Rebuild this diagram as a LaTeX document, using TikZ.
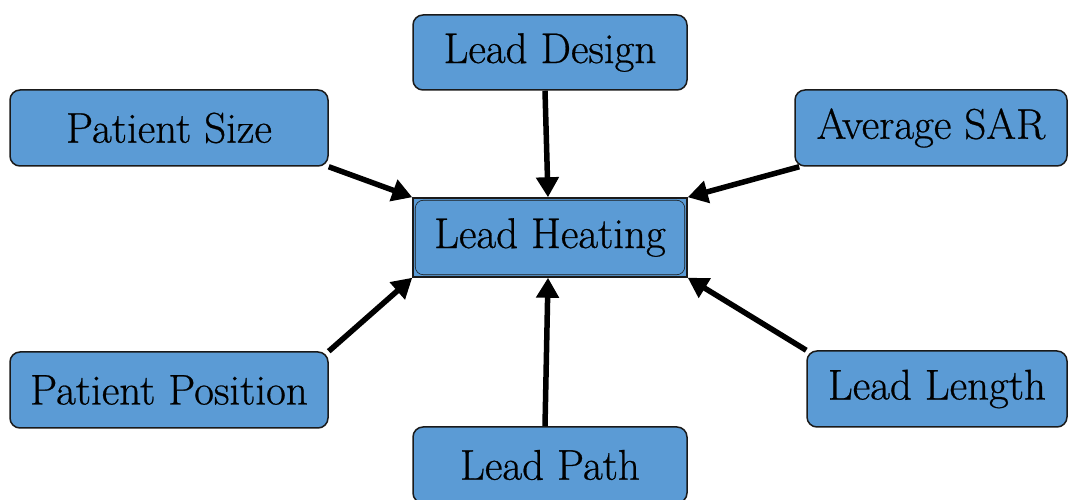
\documentclass[tikz,border=0pt]{standalone}
\usepackage{fontspec}
\newfontfamily\labelfont{Latin Modern Roman}[FakeBold=0.6]
\usetikzlibrary{arrows.meta}
\definecolor{boxblue}{HTML}{5B9BD5}
\definecolor{boxline}{HTML}{1A1A1A}
\tikzset{
  factor/.style={draw=boxline, line width=1.5pt, fill=boxblue, rounded corners=10pt,
    inner sep=0pt, font=\labelfont\fontsize{43}{50}\selectfont, text=black},
  conn/.style={line width=5.5pt, -{Triangle[length=20pt,width=22pt]}, black}
}
\begin{document}
\begin{tikzpicture}[x=1pt,y=1pt]
\useasboundingbox (0,0) rectangle (1068,500);
% nodes (y = 500 - pixel row)
\node[factor, minimum width=274pt, minimum height=75pt] (design) at (550,447.5) {Lead Design};
\node[factor, minimum width=318pt, minimum height=76pt] (psize) at (169,372) {Patient Size};
\node[factor, minimum width=272pt, minimum height=76pt] (sar) at (931,372) {Average SAR};
\node[factor, rounded corners=0pt, minimum width=274pt, minimum height=79pt] (heat) at (550,262.5) {Lead Heating};
\draw[boxline, line width=0.6pt, rounded corners=8pt]
  ([shift={(3pt,-3pt)}]heat.north west) rectangle ([shift={(-3pt,3pt)}]heat.south east);
\node[factor, minimum width=318pt, minimum height=76pt] (ppos) at (169,110) {Patient Position};
\node[factor, minimum width=260pt, minimum height=76pt] (length) at (937,111) {Lead Length};
\node[factor, minimum width=274pt, minimum height=76pt] (path) at (550,35) {Lead Path};
% connectors
\draw[conn] ([xshift=-5pt]design.south) -- ([xshift=-2pt]heat.north);
\draw[conn] ([xshift=-5pt]path.north) -- ([xshift=-2pt]heat.south);
\draw[conn] (psize.south east) -- (heat.north west);
\draw[conn] ([xshift=5pt]sar.south west) -- (heat.north east);
\draw[conn] (ppos.north east) -- (heat.south west);
\draw[conn] (length.north west) -- (heat.south east);
\end{tikzpicture}
\end{document}
